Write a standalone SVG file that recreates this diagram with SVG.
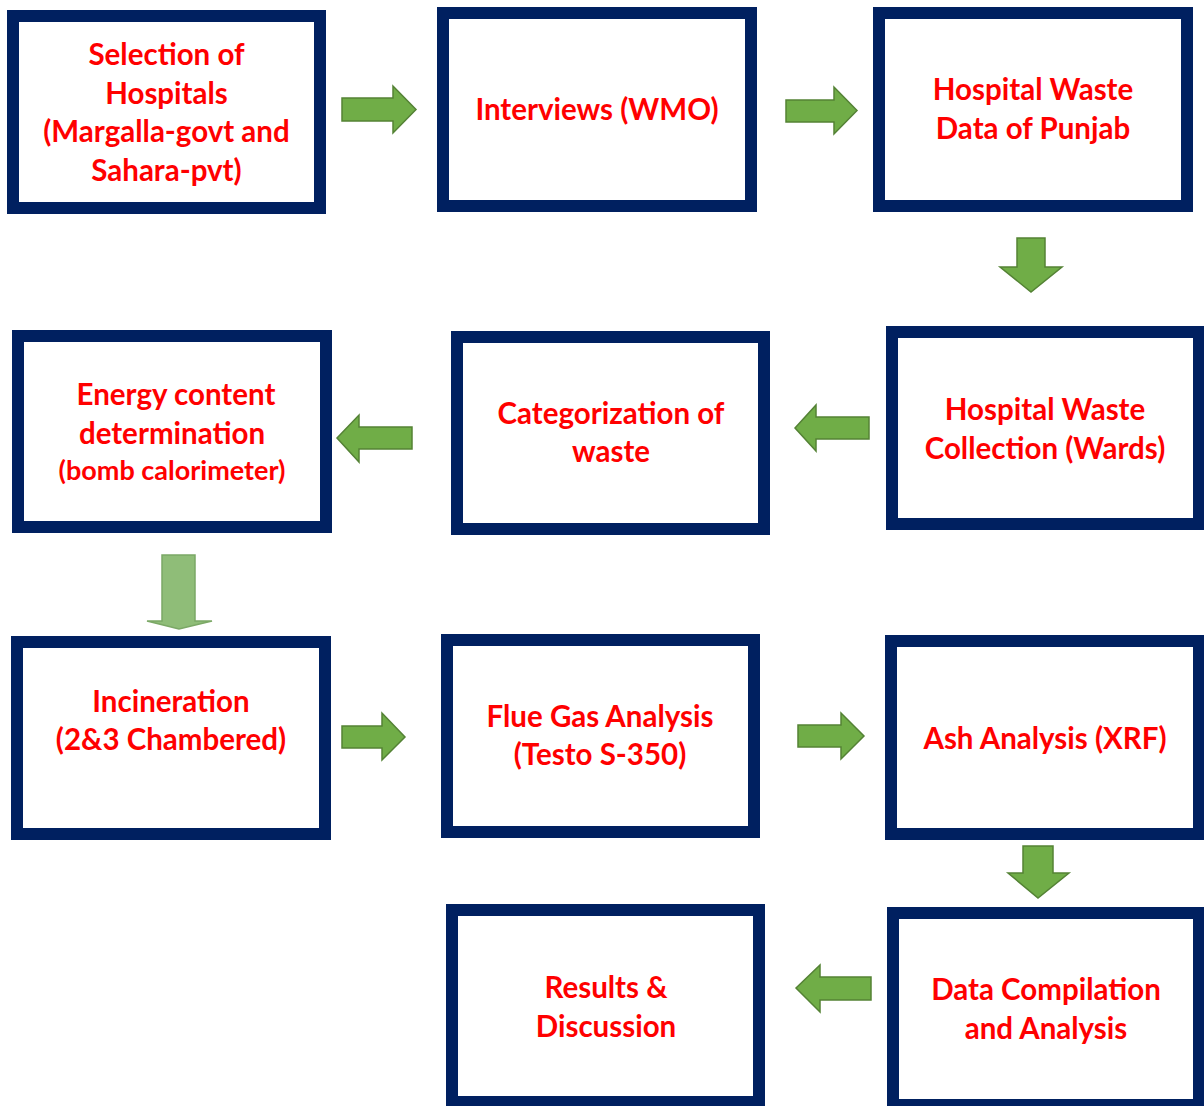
<svg xmlns="http://www.w3.org/2000/svg" width="1204" height="1106" viewBox="0 0 1204 1106">
<style>
.box{fill:#ffffff;stroke:#002060;stroke-width:12}
.t{font-family:Lato,"Liberation Sans",sans-serif;font-weight:bold;font-size:29.5px;fill:#ff0000;text-anchor:middle}
.s{font-size:27px}
.arr{fill:#70ad47;stroke:#548235;stroke-width:1.5;stroke-linejoin:miter}
.fade{fill:#8fbd78;stroke:#7ba866;stroke-width:1.5}
</style>
<rect width="1204" height="1106" fill="#ffffff"/>
<g id="connectors">
<polygon class="arr" points="342,98 393,98 393,86 416,109.5 393,133 393,121 342,121"/>
<polygon class="arr" points="786,100 834,100 834,87 857,110.5 834,134 834,122 786,122"/>
<polygon class="arr" points="1017,238 1045,238 1045,267 1062,267 1031,292 1000,267 1017,267"/>
<polygon class="arr" points="795,428 816,405 816,417 869,417 869,439 816,439 816,451"/>
<polygon class="arr" points="337,438 359,415 359,427 412,427 412,449 359,449 359,462"/>
<polygon class="fade" points="162,555 195,555 195,621 212,621 179,629 147,621 162,621"/>
<polygon class="arr" points="342,726 382,726 382,713 405,737 382,760 382,748 342,748"/>
<polygon class="arr" points="798,725 841,725 841,713 864,736 841,759 841,747 798,747"/>
<polygon class="arr" points="1023,846 1053,846 1053,873 1069,873 1038,898 1008,873 1023,873"/>
<polygon class="arr" points="796,988 820,965 820,977 871,977 871,1000 820,1000 820,1012"/>
</g>
<g id="n1"><rect class="box" x="13" y="16" width="307" height="192"/>
<text class="t" x="166.5" y="65">Selection of</text>
<text class="t" x="166.5" y="103.5">Hospitals</text>
<text class="t" x="166.5" y="142">(Margalla-govt and</text>
<text class="t" x="166.5" y="180.5">Sahara-pvt)</text></g>
<g id="n2"><rect class="box" x="443" y="13" width="308" height="193"/>
<text class="t" x="597" y="120">Interviews (WMO)</text></g>
<g id="n3"><rect class="box" x="879" y="13" width="308" height="193"/>
<text class="t" x="1033" y="100">Hospital Waste</text>
<text class="t" x="1033" y="138.5">Data of Punjab</text></g>
<g id="n4"><rect class="box" x="892" y="332" width="307" height="192"/>
<text class="t" x="1045" y="420">Hospital Waste</text>
<text class="t" x="1045" y="458.5">Collection (Wards)</text></g>
<g id="n5"><rect class="box" x="457" y="337" width="307" height="192"/>
<text class="t" x="611" y="423.5">Categorization of</text>
<text class="t" x="611" y="462">waste</text></g>
<g id="n6"><rect class="box" x="18" y="336" width="308" height="191"/>
<text class="t" x="176" y="405">Energy content</text>
<text class="t" x="172" y="443.5">determination</text>
<text class="t s" x="172" y="480">(bomb calorimeter)</text></g>
<g id="n7"><rect class="box" x="17" y="642" width="308" height="192"/>
<text class="t" x="171" y="711.5">Incineration</text>
<text class="t" x="171" y="750">(2&amp;3 Chambered)</text></g>
<g id="n8"><rect class="box" x="447" y="640" width="307" height="192"/>
<text class="t" x="600" y="726.5">Flue Gas Analysis</text>
<text class="t" x="600" y="765">(Testo S-350)</text></g>
<g id="n9"><rect class="box" x="891" y="641" width="308" height="193"/>
<text class="t" x="1045" y="748.5">Ash Analysis (XRF)</text></g>
<g id="n10"><rect class="box" x="893" y="913" width="306" height="192"/>
<text class="t" x="1046" y="1000">Data Compilation</text>
<text class="t" x="1046" y="1038.5">and Analysis</text></g>
<g id="n11"><rect class="box" x="452" y="910" width="307" height="192"/>
<text class="t" x="606" y="997.5">Results &amp;</text>
<text class="t" x="606" y="1036.5">Discussion</text></g>
</svg>
